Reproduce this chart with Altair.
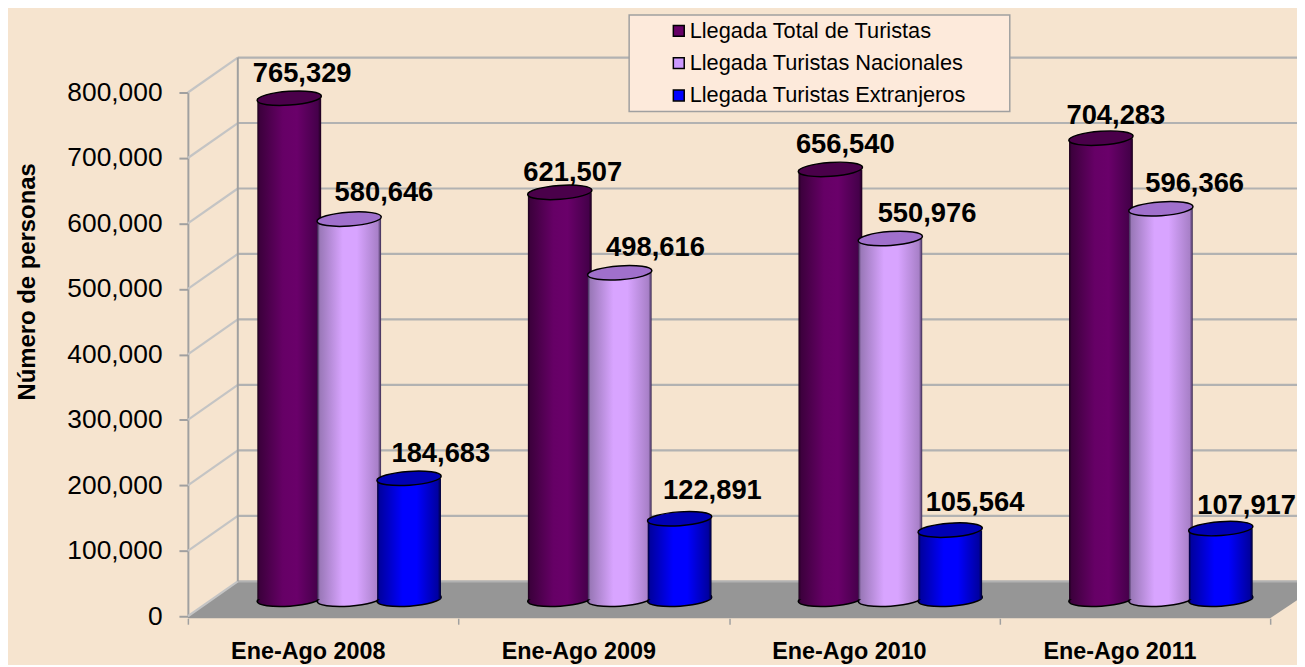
import altair as alt
import pandas as pd

periods = ["Ene-Ago 2008", "Ene-Ago 2009", "Ene-Ago 2010", "Ene-Ago 2011"]
series_names = ["Llegada Total de Turistas", "Llegada Turistas Nacionales", "Llegada Turistas Extranjeros"]
total = [765329, 621507, 656540, 704283]
nacionales = [580646, 498616, 550976, 596366]
extranjeros = [184683, 122891, 105564, 107917]
y_ticks = [0, 100000, 200000, 300000, 400000, 500000, 600000, 700000, 800000]

# ---- layout / style (not data) ----
FONT = "Liberation Sans"
BG = "#f6e4cf"
W, H = 1089, 527
BAR_LIFT = 26000          # bars stand on the floor, above the front axis
WALL_LIFT = 53400         # back wall is higher than the front axis
WALL_X = 0.1845           # back wall x in category units
BAR_SHIFT = 0.096
BAR_STEP = 0.2214
BAR_HALF = 0.118
fills = ["#660066", "#cc99ff", "#0000ff"]
tops = ["#4a004a", "#a070cc", "#0000b4"]
stops = [
    ["#1a001a", "#3d003d", "#660066", "#6a006a", "#45004a", "#1a001a"],
    ["#3a2a50", "#9a78b8", "#d8a4ff", "#d8a4ff", "#a880c8", "#3a2a50"],
    ["#000030", "#0000a0", "#0000ff", "#0000ff", "#0000a0", "#000030"],
]
stop_at = [0, 0.04, 0.4, 0.62, 0.95, 1]
# label nudges in pixels (dx, dy) from each bar top
nudges = [
    [(13, -24), (13, -19), (15, -25), (15, -22)],
    [(35, -26), (36, -25), (37, -25), (34, -25)],
    [(32, -24), (33, -28), (25, -27), (26, -23)],
]
ELLIPSE = "M-1,0A1,0.215,0,1,1,1,0A1,0.215,0,1,1,-1,0Z"

xs = alt.Scale(domain=[0, 4], range=[0, W], nice=False, zero=False)
ys = alt.Scale(domain=[0, 800000], range=[H, 0], nice=False, zero=True)

x_axis = alt.Axis(
    values=[0, 1, 2, 3, 4], labels=False, title=None, domain=False, grid=False,
    ticks=True, tickColor="#a0a0a0", tickSize=6, tickWidth=1.5, offset=2)
y_axis = alt.Axis(
    values=y_ticks, format=",.0f", title="Número de personas", titleFont=FONT, titleFontSize=24,
    titleFontWeight="bold", titleColor="#000000", titleX=-149, titleY=190, titleAngle=270,
    labelFont=FONT, labelFontSize=26.5, labelColor="#000000", labelPadding=17,
    domainColor="#a0a0a0", domainWidth=2, tickColor="#a0a0a0", tickSize=9, tickWidth=2, grid=False)


def X(f, **kw):
    return alt.X(f, type="quantitative", scale=xs, axis=x_axis, **kw)


def Y(f, **kw):
    return alt.Y(f, type="quantitative", scale=ys, axis=y_axis, **kw)


# floor
floor_df = pd.DataFrame({
    "x": [0, WALL_X, 4, 4.13],
    "t": [0, WALL_LIFT, WALL_LIFT, WALL_LIFT],
    "b": [-3000, -3000, -3000, 33000],
})
floor = alt.Chart(floor_df).mark_area(color="#969696", opacity=1, clip=False).encode(
    x=X("x"), y=Y("t"), y2=alt.Y2("b"))

# wall
wall_df = pd.DataFrame({"v": y_ticks})
wall_df["x0"] = 0.0
wall_df["x1"] = WALL_X
wall_df["x2"] = 4.13
wall_df["w"] = wall_df["v"] + WALL_LIFT
grid = alt.Chart(wall_df).mark_rule(color="#b2b2b2", strokeWidth=2.2).encode(
    x=X("x1"), x2=alt.X2("x2"), y=Y("w"))
slant = alt.Chart(wall_df).mark_rule(color="#c4c4c4", strokeWidth=2.2).encode(
    x=X("x0"), x2=alt.X2("x1"), y=Y("v"), y2=alt.Y2("w"))
back_df = pd.DataFrame({"x": [WALL_X], "a": [WALL_LIFT], "b": [800000 + WALL_LIFT]})
back = alt.Chart(back_df).mark_rule(color="#a0a0a0", strokeWidth=2).encode(
    x=X("x"), y=Y("a"), y2=alt.Y2("b"))

layers = [floor, grid, slant, back]

all_values = [total, nacionales, extranjeros]
label_layers = []
for s, (name, vals) in enumerate(zip(series_names, all_values)):
    df = pd.DataFrame({"period": periods, "value": vals})
    df["c"] = [i + 0.5 + BAR_SHIFT + (s - 1) * BAR_STEP for i in range(len(periods))]
    df["l"] = df["c"] - BAR_HALF
    df["r"] = df["c"] + BAR_HALF
    df["base"] = BAR_LIFT
    df["top"] = df["value"] + BAR_LIFT
    grad = alt.Gradient(gradient="linear", x1=0, x2=1, y1=0, y2=0,
                        stops=[alt.GradientStop(offset=o, color=c) for o, c in zip(stop_at, stops[s])])
    layers.append(alt.Chart(df).mark_point(shape=ELLIPSE, size=4200, filled=True, fill=grad, stroke="#000000",
                                           strokeWidth=1.5, opacity=1, angle=356).encode(x=X("c"), y=Y("base")))
    layers.append(alt.Chart(df).mark_bar(fill=grad).encode(
        x=X("l"), x2=alt.X2("r"), y=Y("top"), y2=alt.Y2("base")))
    layers.append(alt.Chart(df).mark_point(shape=ELLIPSE, size=4200, filled=True, fill=tops[s], stroke="#000000",
                                           strokeWidth=1.5, opacity=1, angle=356).encode(x=X("c"), y=Y("top")))
    for i in range(len(periods)):
        dx, dy = nudges[s][i]
        label_layers.append(alt.Chart(df.iloc[[i]]).mark_text(
            font=FONT, fontSize=27.5, fontWeight="bold", color="#000000", dx=dx, dy=dy, baseline="middle",
        ).encode(x=X("c"), y=Y("top"), text=alt.Text("value:Q", format=",")))

layers += label_layers

# category labels
cat_df = pd.DataFrame({"period": periods, "x": [i + 0.5 for i in range(len(periods))]})
cats = alt.Chart(cat_df).mark_text(font=FONT, fontSize=23.5, fontWeight="bold", color="#000000", dx=-15,
                                   baseline="middle").encode(x=X("x"), y=alt.value(H + 36), text="period:N")
layers.append(cats)

# legend box and legend
box_df = pd.DataFrame({"a": [0]})
box = alt.Chart(box_df).mark_rect(fill="#fdeadb", stroke="#a0a0a0", strokeWidth=1.5).encode(
    x=alt.value(444), x2=alt.value(827), y=alt.value(-78), y2=alt.value(19))
layers.append(box)

leg_df = pd.DataFrame({"s": series_names, "x": [0.0] * 3, "y": [0] * 3})
legend = alt.Chart(leg_df).mark_square(opacity=0, size=120).encode(
    x=X("x"), y=Y("y"),
    color=alt.Color("s:N", scale=alt.Scale(domain=series_names, range=fills), legend=alt.Legend(
        orient="none", legendX=483, legendY=-73, title=None, padding=0, symbolType="square", symbolSize=120,
        symbolOpacity=1, symbolStrokeColor="#000000", symbolStrokeWidth=1.5, labelFont=FONT, labelFontSize=21.9,
        labelColor="#000000", rowPadding=9.5, labelOffset=0, labelLimit=400)),
)
layers.append(legend)

chart = alt.layer(*layers).properties(
    width=W, height=H,
    padding={"left": 181, "top": 83, "right": 27, "bottom": 47},
    autosize=alt.AutoSizeParams(type="none"),
    background=BG,
).configure_view(stroke=None)

chart.save("out.html", embed_options={"renderer": "svg", "actions": False})
